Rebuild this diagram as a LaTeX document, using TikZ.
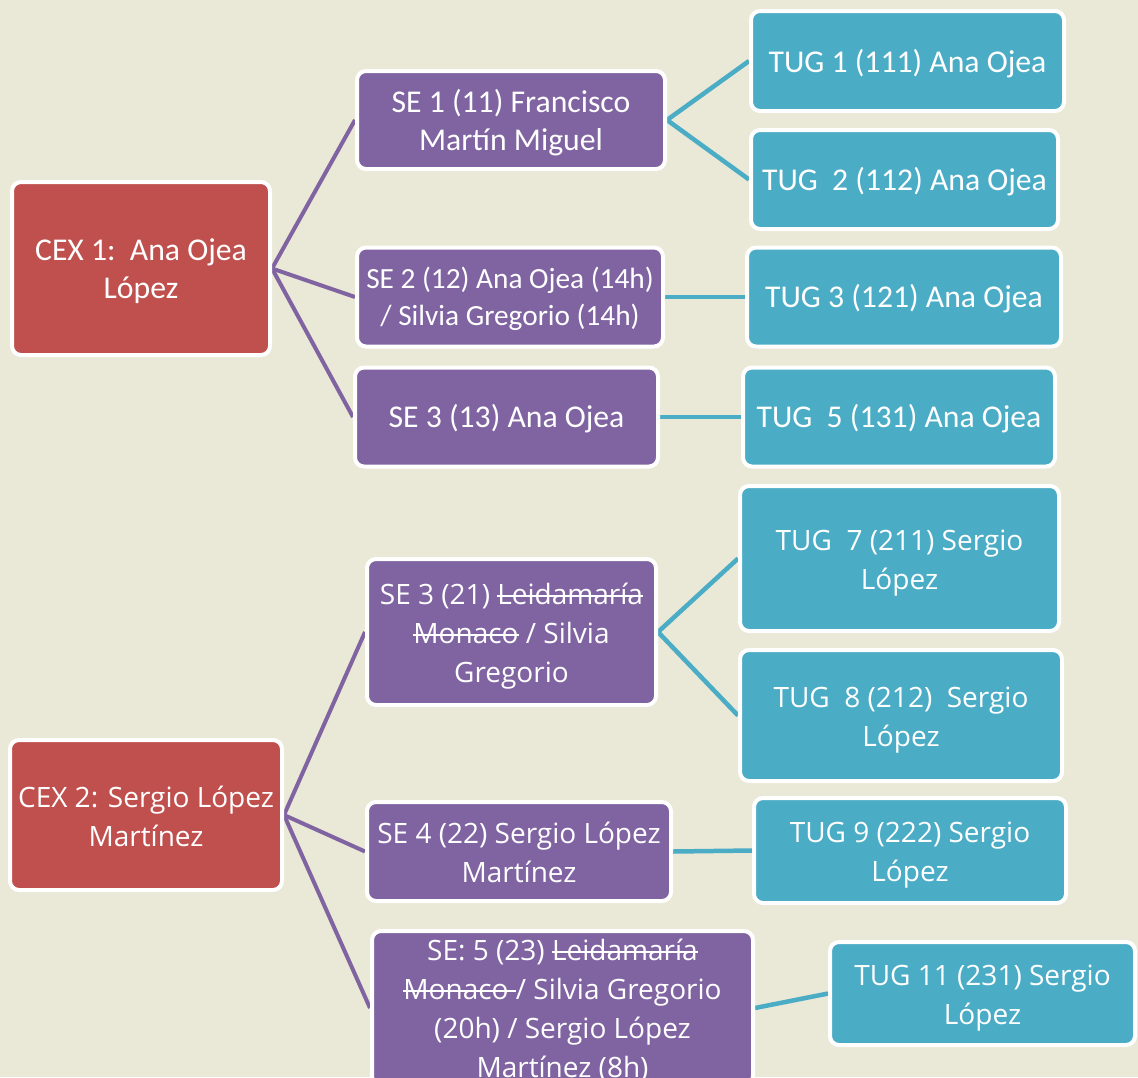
\documentclass[tikz,border=0pt]{standalone}
\usepackage{fontspec}
\setmainfont{Carlito}
\newfontfamily\osans{Open Sans}
\newsavebox{\strkbox}
\newcommand{\strk}[1]{\sbox{\strkbox}{#1}\rlap{\rule[0.26em]{\wd\strkbox}{1.8pt}}\usebox{\strkbox}}
\usetikzlibrary{backgrounds}
\definecolor{bgc}{HTML}{EAE8D6}
\definecolor{cexc}{HTML}{C0504D}
\definecolor{sec}{HTML}{8064A2}
\definecolor{tugc}{HTML}{4BACC6}
\tikzset{
  box/.style={rectangle, rounded corners=9pt, draw=white, line width=4pt, inner sep=0pt},
  cexbox/.style={box, fill=cexc},
  sebox/.style={box, fill=sec},
  tugbox/.style={box, fill=tugc},
  txt/.style={text=white, align=center, inner sep=0pt},
  topf/.style={txt, font=\fontsize{31.7}{38.5}\selectfont},
  smallf/.style={txt, font=\fontsize{29.3}{36.5}\selectfont},
  botf/.style={txt, font=\osans\fontsize{28}{39}\selectfont},
  selink/.style={draw=sec, line width=4pt},
  tuglink/.style={draw=tugc, line width=4.5pt},
}
\begin{document}
\begin{tikzpicture}[x=1pt,y=-1pt]
\useasboundingbox (0,0) rectangle (1138,1077);
\clip (0,0) rectangle (1138,1077);
% upper tree
\node[cexbox,minimum width=258pt,minimum height=173pt] (cex1) at (141,268.5) {};
\node[topf] (cex1t) at ([yshift=-2.5pt]cex1.center) {CEX 1:\ \ Ana Ojea\\López};
\node[sebox,minimum width=308pt,minimum height=98pt] (se1) at (511,120) {};
\node[topf] (se1t) at ([yshift=-2.5pt]se1.center) {SE 1 (11) Francisco\\Martín Miguel};
\node[sebox,minimum width=306pt,minimum height=99pt] (se2) at (510,297) {};
\node[smallf] (se2t) at ([yshift=-2pt]se2.center) {SE 2 (12) Ana Ojea (14h)\\/ Silvia Gregorio (14h)};
\node[sebox,minimum width=303pt,minimum height=99pt] (se3) at (506.5,417) {};
\node[topf] (se3t) at ([yshift=-2pt]se3.center) {SE 3 (13) Ana Ojea};
\node[tugbox,minimum width=313pt,minimum height=100pt] (tug1) at (907.5,61) {};
\node[topf] (tug1t) at ([yshift=-2.5pt]tug1.center) {TUG 1 (111) Ana Ojea};
\node[tugbox,minimum width=307pt,minimum height=99pt] (tug2) at (904.5,179.5) {};
\node[topf] (tug2t) at ([yshift=-2.5pt]tug2.center) {TUG\ \ 2 (112) Ana Ojea};
\node[tugbox,minimum width=314pt,minimum height=99pt] (tug3) at (904,297) {};
\node[topf] (tug3t) at ([yshift=-2pt]tug3.center) {TUG 3 (121) Ana Ojea};
\node[tugbox,minimum width=312pt,minimum height=99pt] (tug5) at (899,417) {};
\node[topf] (tug5t) at ([yshift=-2pt]tug5.center) {TUG\ \ 5 (131) Ana Ojea};
% lower tree
\node[cexbox,minimum width=272pt,minimum height=150pt] (cex2) at (146,815) {};
\node[botf] (cex2t) at ([yshift=-1pt]cex2.center) {CEX 2: Sergio López\\Martínez};
\node[sebox,minimum width=289pt,minimum height=146pt] (se21) at (511.5,632) {};
\node[botf] (se21t) at ([yshift=-4pt]se21.center) {SE 3 (21) \strk{Leidamaría}\\\strk{Monaco} / Silvia\\Gregorio};
\node[sebox,minimum width=304pt,minimum height=99pt] (se22) at (519,851.5) {};
\node[botf] (se22t) at ([yshift=-1pt]se22.center) {SE 4 (22) Sergio López\\Martínez};
\node[sebox,minimum width=381pt,minimum height=154pt] (se23) at (562.5,1008) {};
\node[botf] (se23t) at ([yshift=-2pt]se23.center) {SE: 5 (23) \strk{Leidamaría}\\\strk{Monaco\ }/ Silvia Gregorio\\(20h) / Sergio López\\Martínez (8h)};
\node[tugbox,minimum width=319pt,minimum height=145pt] (tug7) at (899.5,558.5) {};
\node[botf] (tug7t) at ([yshift=-5pt]tug7.center) {TUG\ \ 7 (211) Sergio\\López};
\node[tugbox,minimum width=322pt,minimum height=131pt] (tug8) at (901,715.5) {};
\node[botf] (tug8t) at ([yshift=-5pt]tug8.center) {TUG\ \ 8 (212)\ \ Sergio\\López};
\node[tugbox,minimum width=312pt,minimum height=105pt] (tug9) at (910,850.5) {};
\node[botf] (tug9t) at ([yshift=-5pt]tug9.center) {TUG 9 (222) Sergio\\López};
\node[tugbox,minimum width=305pt,minimum height=103pt] (tug11) at (982.5,993.5) {};
\node[botf] (tug11t) at ([yshift=-5pt]tug11.center) {TUG 11 (231) Sergio\\López};
\begin{pgfonlayer}{background}
\fill[bgc] (0,0) rectangle (1138,1077);
\draw[selink] (cex1.east) -- (se1.west);
\draw[selink] (cex1.east) -- (se2.west);
\draw[selink] (cex1.east) -- (se3.west);
\draw[tuglink] (se1.east) -- (tug1.west);
\draw[tuglink] (se1.east) -- (tug2.west);
\draw[tuglink] (se2.east) -- (tug3.west);
\draw[tuglink] (se3.east) -- (tug5.west);
\draw[selink] (cex2.east) -- (se21.west);
\draw[selink] (cex2.east) -- (se22.west);
\draw[selink] (cex2.east) -- (se23.west);
\draw[tuglink] (se21.east) -- (tug7.west);
\draw[tuglink] (se21.east) -- (tug8.west);
\draw[tuglink] (se22.east) -- (tug9.west);
\draw[tuglink] (se23.east) -- (tug11.west);
\end{pgfonlayer}
\end{tikzpicture}
\end{document}
